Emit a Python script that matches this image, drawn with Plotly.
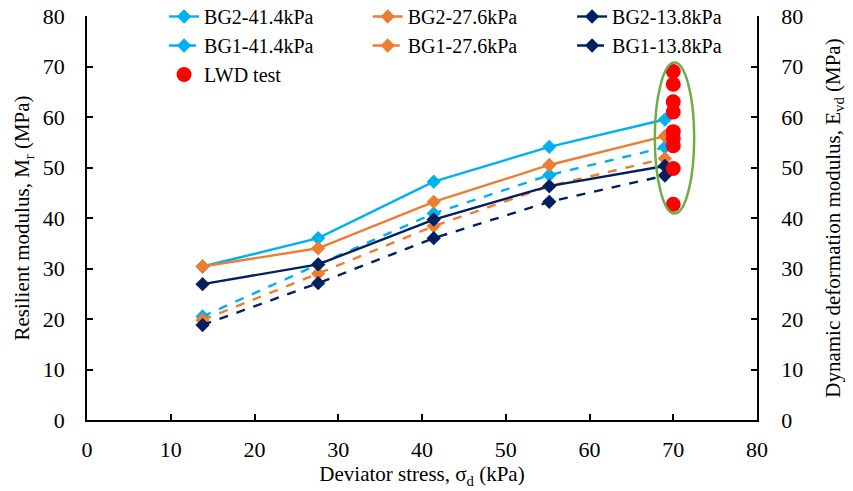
import plotly.graph_objects as go

stress = [13.8, 27.6, 41.4, 55.2, 69.0]
bg2_414 = [30.4, 36.0, 47.2, 54.1, 59.5]
bg2_276 = [30.4, 34.0, 43.2, 50.5, 56.2]
bg2_138 = [26.9, 30.8, 39.7, 46.3, 50.3]
bg1_414 = [20.5, 30.8, 40.9, 48.5, 54.0]
bg1_276 = [19.8, 29.0, 38.4, 46.3, 51.8]
bg1_138 = [18.8, 27.1, 36.0, 43.2, 48.4]
lwd_x = [70, 70, 70, 70, 70, 70, 70, 70, 70]
lwd_evd = [69.0, 66.5, 63.0, 61.0, 57.1, 55.8, 54.3, 49.8, 42.7]

C_BLUE = "#00B0F0"
C_ORANGE = "#ED7D31"
C_NAVY = "#002060"
FONT = "Liberation Serif"

fig = go.Figure()

series = [
    ("BG2-41.4kPa", bg2_414, C_BLUE, "solid", "legend"),
    ("BG1-41.4kPa", bg1_414, C_BLUE, "dash", "legend"),
    ("BG2-27.6kPa", bg2_276, C_ORANGE, "solid", "legend2"),
    ("BG1-27.6kPa", bg1_276, C_ORANGE, "dash", "legend2"),
    ("BG2-13.8kPa", bg2_138, C_NAVY, "solid", "legend3"),
    ("BG1-13.8kPa", bg1_138, C_NAVY, "dash", "legend3"),
]
for name, ys, col, dash, leg in series:
    fig.add_trace(go.Scatter(
        x=stress, y=ys, name=name, mode="lines+markers",
        line=dict(color=col, width=2.4, dash=dash),
        marker=dict(symbol="diamond", size=11, color=col),
        legend=leg,
    ))

fig.add_trace(go.Scatter(
    x=lwd_x, y=lwd_evd, name="LWD test", mode="markers",
    marker=dict(symbol="circle", size=15, color="#FF0000"),
    yaxis="y2", legend="legend",
))

fig.add_shape(type="circle", xref="x", yref="y", x0=67.8, x1=72.5, y0=40.9, y1=70.8,
              line=dict(color="#70AD47", width=2.5))

legbase = dict(font=dict(family=FONT, size=20, color="black"), bgcolor="rgba(0,0,0,0)",
               yanchor="top", y=1.047, xanchor="left", itemwidth=30)

axis_common = dict(showgrid=False, zeroline=False, showline=True, linecolor="black", linewidth=1.5,
                   ticks="inside", ticklen=6, tickcolor="black", tickwidth=1.5, automargin=False,
                   tickfont=dict(family=FONT, size=22, color="black"))

fig.update_layout(
    width=853, height=491,
    margin=dict(l=87, r=96, t=16, b=71, autoexpand=False),
    paper_bgcolor="white", plot_bgcolor="white",
    font=dict(family=FONT, size=21, color="black"),
    xaxis=dict(range=[0, 80], dtick=10, ticklabelstandoff=9,
               title=dict(text="Deviator stress, σ<sub>d</sub> (kPa)",
               font=dict(family=FONT, size=21), standoff=4), **axis_common),
    yaxis=dict(range=[0, 80], dtick=10, ticklabelstandoff=16,
               title=dict(text="Resilient modulus, M<sub>r</sub> (MPa)",
               font=dict(family=FONT, size=21), standoff=7), **axis_common),
    yaxis2=dict(range=[0, 80], dtick=10, overlaying="y", side="right", ticklabelstandoff=18,
                title=dict(text="Dynamic deformation modulus, E<sub>vd</sub> (MPa)",
                           font=dict(family=FONT, size=21), standoff=23), **axis_common),
    legend=dict(x=0.115, **legbase),
    legend2=dict(x=0.419, **legbase),
    legend3=dict(x=0.724, **legbase),
)

fig.write_html("out.html", config={"displayModeBar": False},
               post_script="document.body.style.margin='0px';")
